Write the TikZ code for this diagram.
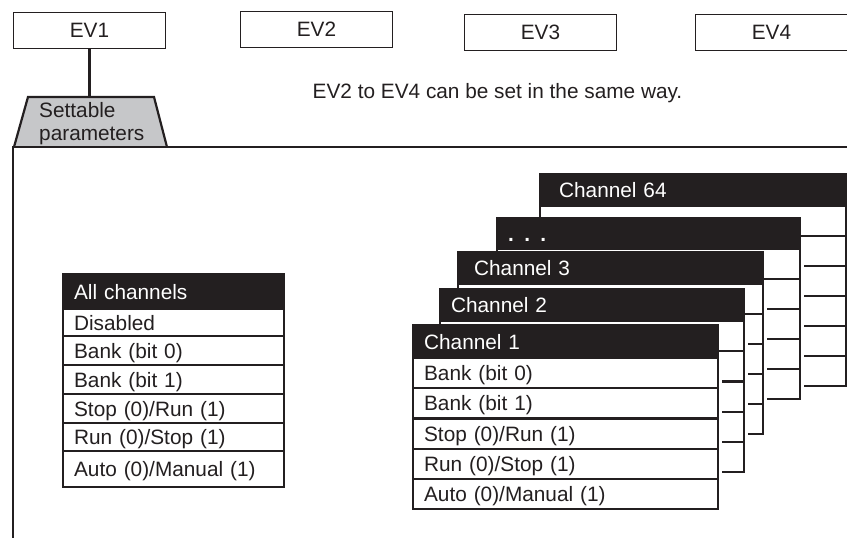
\documentclass[tikz,border=0pt]{standalone}
\usepackage{fontspec}
\setmainfont{Liberation Sans}
\definecolor{ink}{HTML}{231F20}
\definecolor{tabgray}{HTML}{C6C7C9}
\newcommand\dfont{\fontsize{20.8}{22.5}\selectfont}
\begin{document}
\begin{tikzpicture}[x=1pt,y=-1pt,font=\dfont,line join=miter,
  evbox/.style={draw=ink,line width=1.6pt,minimum width=152pt,minimum height=36pt,inner sep=0pt,text=ink},
  link/.style={draw=ink,line width=2.2pt},
  frame/.style={draw=ink,line width=2.2pt},
  hdr/.style={fill=ink,draw=ink,line width=2.2pt,text=white,anchor=north west,inner ysep=0pt,text height=14.9pt,text depth=0pt,align=left},
  cell/.style={fill=white,draw=ink,line width=2.2pt,text=ink,anchor=north west,inner ysep=0pt,text height=14.9pt,text depth=0pt,align=left},
  blank/.style={cell,inner xsep=0pt},
  halo/.style={fill=white},
]
\useasboundingbox (0,0) rectangle (847,538);

% EV boxes
\node[evbox] (ev1) at (89.5,30.5) {EV1};
\node[evbox] (ev2) at (316.5,29.5) {EV2};
\node[evbox] (ev3) at (540.5,32.5) {EV3};
\node[evbox] (ev4) at (771.5,32.5) {EV4};
\node[anchor=base,text=ink,inner sep=0pt] (note) at (497.5,98) {EV2 to EV4 can be set in the same way.};

% tab and frame
\coordinate (tabtop) at (89.5,97);
\path[fill=tabgray] (14,147) -- (28,97) -- (154,97) -- (167,147) -- cycle;
\draw[frame] (14,147) -- (28,97) -- (154,97) -- (167,147);
\draw[frame] (848,147) -- (13,147) -- (13,539);
\draw[link] (ev1.south) -- (tabtop);
\node[anchor=north west,inner sep=0pt,align=left,text=ink] (tabtext) at (39,102.5) {Settable\\parameters};

% All channels
\node[hdr,inner xsep=11pt,text width=199pt,minimum height=35pt] (all) at (62,273) {All channels};
\node[cell,inner xsep=11pt,text width=199pt,minimum height=27pt] (a1) at (62,308) {Disabled};
\node[cell,inner xsep=11pt,text width=199pt,minimum height=29pt] (a2) at (62,335) {Bank (bit 0)};
\node[cell,inner xsep=11pt,text width=199pt,minimum height=29pt] (a3) at (62,364) {Bank (bit 1)};
\node[cell,inner xsep=11pt,text width=199pt,minimum height=29pt] (a4) at (62,393) {Stop (0)/Run (1)};
\node[cell,inner xsep=11pt,text width=199pt,minimum height=28pt] (a5) at (62,422) {Run (0)/Stop (1)};
\node[cell,inner xsep=11pt,text width=199pt,minimum height=36pt] (a6) at (62,450) {Auto (0)/Manual (1)};

% Channel 64 (back)
\node[hdr,inner xsep=19pt,text width=268pt,minimum height=32pt] (ch64) at (539,173) {Channel 64};
\foreach \i in {0,...,5}
  \node[blank,minimum width=306pt,minimum height=30pt] (ch64r\i) at (539,{205+30*\i}) {};

% ... table
\fill[halo] (800,248) rectangle (803.5,398);
\node[hdr,inner xsep=11pt,text width=281pt,minimum height=31pt,font=\dfont\bfseries] (chdots) at (496,217) {. . .};
\foreach \i in {0,...,4}
  \node[blank,minimum width=303pt,minimum height=30pt] (chdr\i) at (496,{248+30*\i}) {};

% Channel 3
\fill[halo] (763,283) rectangle (766.5,433);
\node[hdr,inner xsep=16pt,text width=273pt,minimum height=32pt] (ch3) at (457,251) {Channel 3};
\foreach \i in {0,...,4}
  \node[blank,minimum width=305pt,minimum height=30pt] (ch3r\i) at (457,{283+30*\i}) {};

% Channel 2
\fill[halo] (744,320) rectangle (747.5,471);
\node[hdr,inner xsep=11pt,text width=282pt,minimum height=32pt] (ch2) at (439,288) {Channel 2};
\foreach \i in {0,...,4}
  \node[blank,minimum width=304pt,minimum height=30.2pt] (ch2r\i) at (439,{320+30.2*\i}) {};

% Channel 1 (front)
\fill[halo] (718,357) rectangle (721.5,508);
\node[hdr,inner xsep=11pt,text width=283pt,minimum height=33pt] (ch1) at (412,324) {Channel 1};
\node[cell,inner xsep=11pt,text width=283pt,minimum height=30.2pt] (c1) at (412,357) {Bank (bit 0)};
\node[cell,inner xsep=11pt,text width=283pt,minimum height=30.2pt] (c2) at (412,387.2) {Bank (bit 1)};
\node[cell,inner xsep=11pt,text width=283pt,minimum height=30.2pt] (c3) at (412,417.4) {Stop (0)/Run (1)};
\node[cell,inner xsep=11pt,text width=283pt,minimum height=30.2pt] (c4) at (412,447.6) {Run (0)/Stop (1)};
\node[cell,inner xsep=11pt,text width=283pt,minimum height=30.2pt] (c5) at (412,477.8) {Auto (0)/Manual (1)};
\end{tikzpicture}
\end{document}
